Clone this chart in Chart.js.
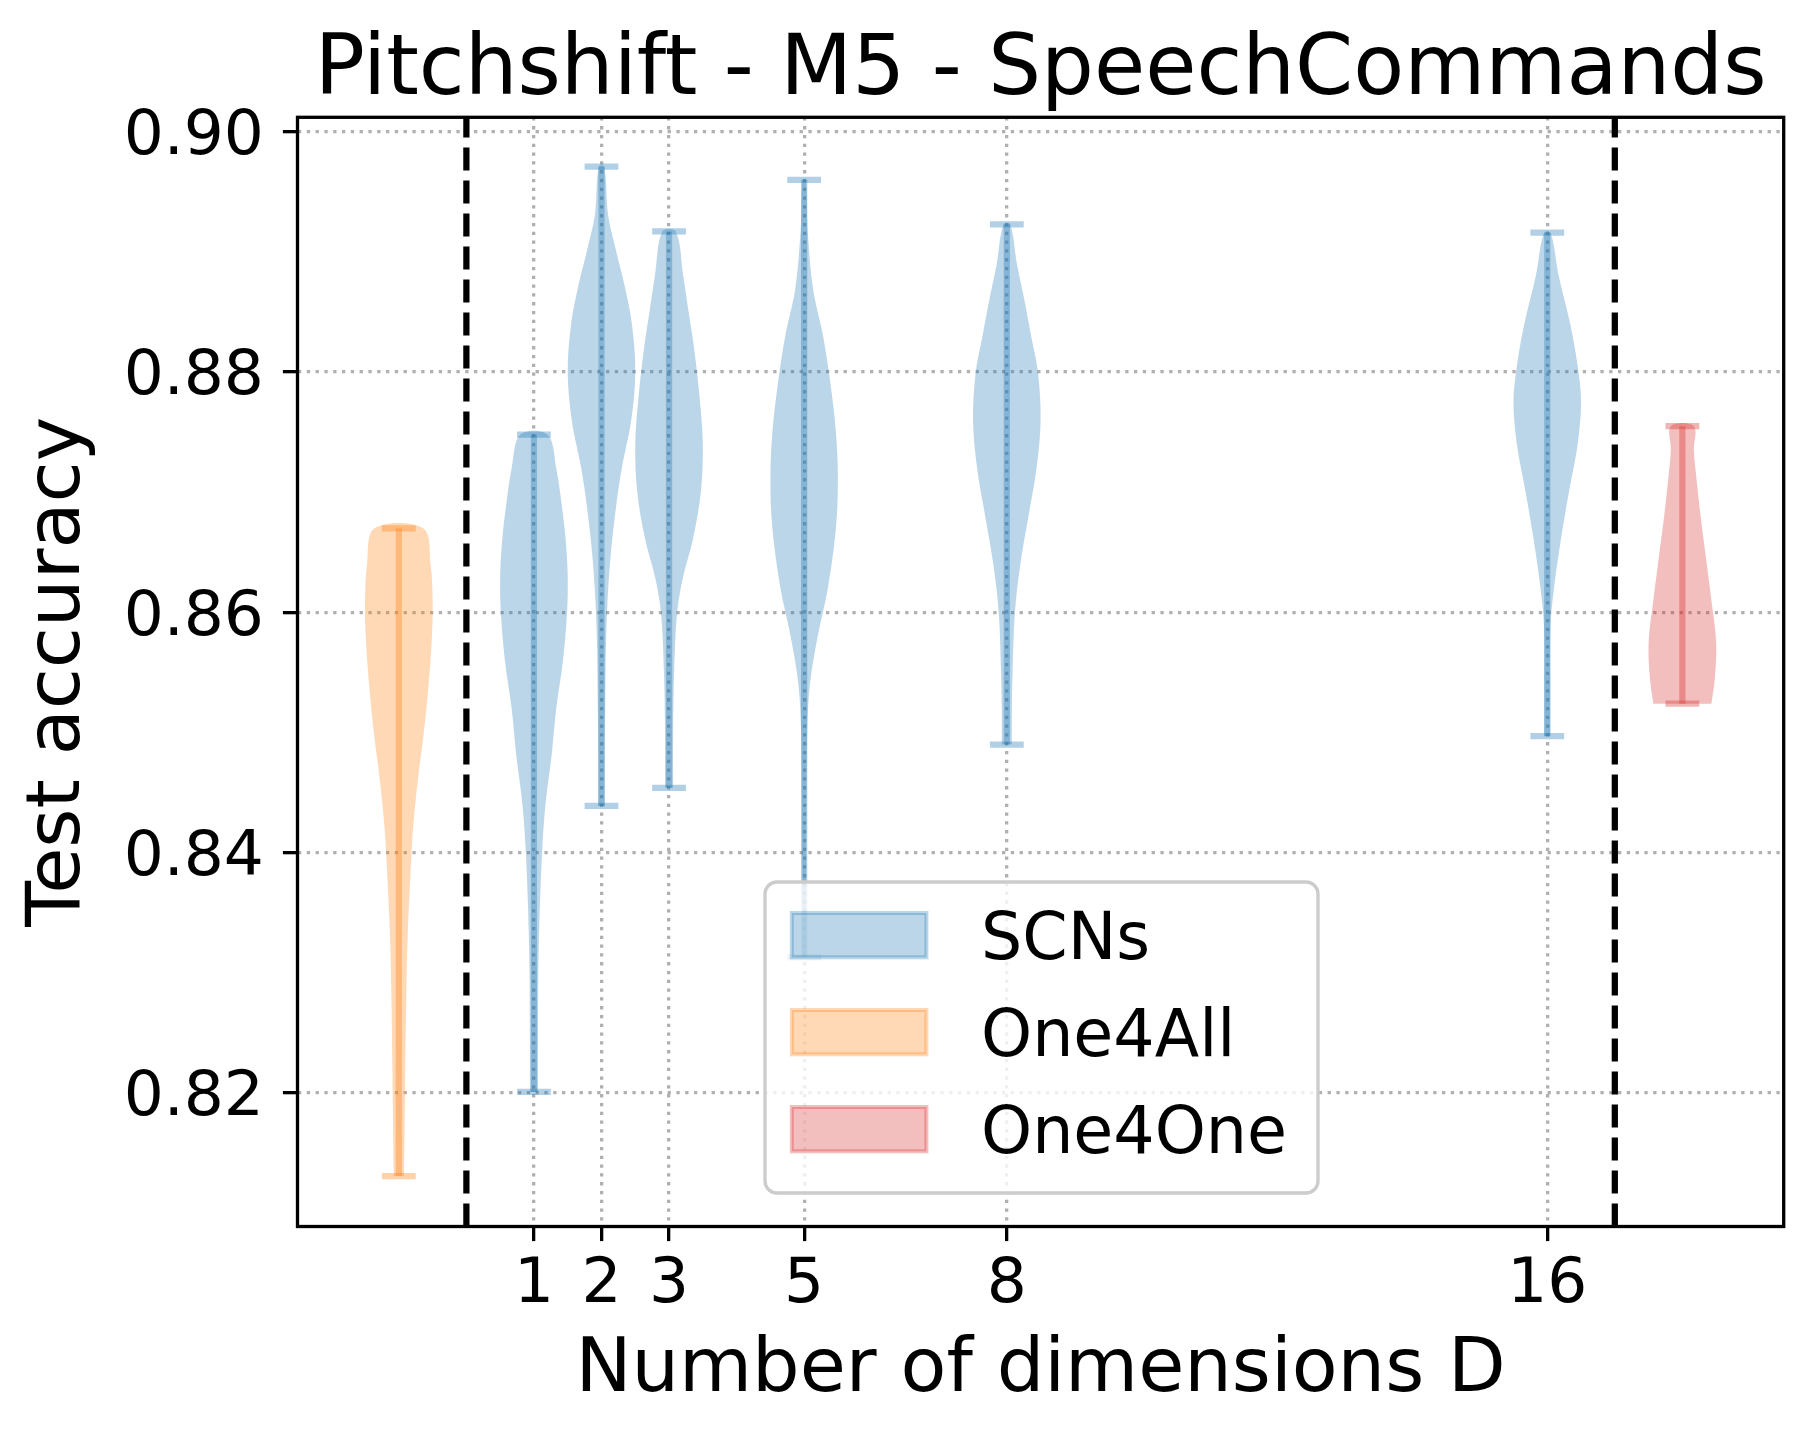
<!DOCTYPE html>
<html>
<head>
<meta charset="utf-8">
<script src="https://cdn.jsdelivr.net/npm/chart.js@4.4.1/dist/chart.umd.min.js"></script>
<style>
  body { margin: 0; background: #fff; }
  canvas { display: block; }
</style>
</head>
<body>
<canvas id="violins" width="1815" height="1440" style="width:1815px;height:1440px"></canvas>
<script>
// x positions / tick labels (number of dimensions D)
const dims = [1, 2, 3, 5, 8, 16];
const yTicks = [0.82, 0.84, 0.86, 0.88, 0.90];

// SCN violins, one row per D: accuracy levels (bottom -> top) and half width at each level
const scnLevels = [
  [0.8201, 0.8250, 0.8300, 0.8350, 0.8400, 0.8440, 0.8480, 0.8520, 0.8560, 0.8600, 0.8630, 0.8660, 0.8690, 0.8720, 0.8748],
  [0.8439, 0.8480, 0.8520, 0.8570, 0.8610, 0.8650, 0.8690, 0.8720, 0.8760, 0.8800, 0.8840, 0.8870, 0.8900, 0.8930, 0.8971],
  [0.8454, 0.8500, 0.8550, 0.8600, 0.8630, 0.8660, 0.8700, 0.8740, 0.8780, 0.8820, 0.8850, 0.8880, 0.8917],
  [0.8313, 0.8360, 0.8400, 0.8450, 0.8500, 0.8540, 0.8580, 0.8620, 0.8670, 0.8710, 0.8750, 0.8790, 0.8830, 0.8870, 0.8920, 0.8960],
  [0.8490, 0.8520, 0.8550, 0.8600, 0.8640, 0.8680, 0.8720, 0.8760, 0.8800, 0.8830, 0.8860, 0.8890, 0.8923],
  [0.8497, 0.8540, 0.8590, 0.8620, 0.8660, 0.8700, 0.8740, 0.8775, 0.8805, 0.8840, 0.8880, 0.8916]
];
const scnHalfWidths = [
  [0.06, 0.06, 0.065, 0.085, 0.12, 0.17, 0.26, 0.33, 0.43, 0.49, 0.50, 0.47, 0.41, 0.33, 0.20],
  [0.05, 0.05, 0.055, 0.065, 0.09, 0.14, 0.22, 0.30, 0.44, 0.50, 0.45, 0.35, 0.22, 0.10, 0.04],
  [0.06, 0.06, 0.075, 0.12, 0.21, 0.35, 0.47, 0.50, 0.45, 0.37, 0.29, 0.21, 0.10],
  [0.025, 0.028, 0.03, 0.035, 0.045, 0.085, 0.20, 0.35, 0.47, 0.50, 0.47, 0.39, 0.28, 0.13, 0.05, 0.025],
  [0.075, 0.075, 0.085, 0.12, 0.20, 0.32, 0.44, 0.50, 0.46, 0.36, 0.26, 0.15, 0.05],
  [0.045, 0.045, 0.05, 0.10, 0.20, 0.32, 0.45, 0.50, 0.45, 0.34, 0.17, 0.05]
];

const one4allX = -1;
const one4allLevels = [0.8131, 0.8170, 0.8220, 0.8280, 0.8330, 0.8380, 0.8420, 0.8460, 0.8500, 0.8540, 0.8580, 0.8610, 0.8640, 0.8670];
const one4allHalfWidths = [0.075, 0.085, 0.095, 0.11, 0.13, 0.17, 0.21, 0.28, 0.37, 0.44, 0.49, 0.50, 0.47, 0.36];

const one4oneX = 18;
const one4oneLevels = [0.8524, 0.8545, 0.8575, 0.8610, 0.8645, 0.8680, 0.8716, 0.8735, 0.8755];
const one4oneHalfWidths = [0.43, 0.48, 0.50, 0.43, 0.35, 0.27, 0.20, 0.17, 0.17];

const separators = [0, 17];
const xRange = [-2.5, 19.5];
const yRange = [0.8089, 0.9012];

const legendLabels = ['SCNs', 'One4All', 'One4One'];
const BLUE = '31,119,180', ORANGE = '255,127,14', RED = '214,39,40';
const FONT = '"DejaVu Sans", sans-serif';

function outline(cx, ys, ws) {
  const left = ys.map((y, i) => ({x: cx - ws[i], y: y}));
  const right = ys.map((y, i) => ({x: cx + ws[i], y: y})).reverse();
  return left.concat(right);
}

function seg(points, rgb) {
  return {data: points, borderColor: 'rgba(' + rgb + ',0.35)', borderWidth: 6.25,
    borderCapStyle: 'butt', pointRadius: 0, fill: false, tension: 0};
}

function violin(cx, ys, ws, rgb) {
  const lo = ys[0], hi = ys[ys.length - 1];
  return [
    {data: outline(cx, ys, ws), fill: 'shape', backgroundColor: 'rgba(' + rgb + ',0.3)',
      borderColor: 'rgba(0,0,0,0)', borderWidth: 1, tension: 0.35, pointRadius: 0},
    seg([{x: cx, y: lo}, {x: cx, y: hi}], rgb),
    seg([{x: cx - 0.25, y: lo}, {x: cx + 0.25, y: lo}], rgb),
    seg([{x: cx - 0.25, y: hi}, {x: cx + 0.25, y: hi}], rgb)
  ];
}

let datasets = [];
dims.forEach((d, i) => { datasets = datasets.concat(violin(d, scnLevels[i], scnHalfWidths[i], BLUE)); });
datasets = datasets.concat(violin(one4allX, one4allLevels, one4allHalfWidths, ORANGE));
datasets = datasets.concat(violin(one4oneX, one4oneLevels, one4oneHalfWidths, RED));
separators.forEach(s => {
  datasets.push({data: [{x: s, y: yRange[0]}, {x: s, y: yRange[1]}], borderColor: '#000',
    borderWidth: 6.25, borderDash: [23, 10], borderCapStyle: 'butt', pointRadius: 0, fill: false});
});

// axes frame + legend box
const framePlugin = {
  id: 'frameAndLegend',
  afterDatasetsDraw(chart) {
    const ctx = chart.ctx;
    const a = chart.chartArea;
    ctx.save();
    ctx.strokeStyle = '#000';
    ctx.lineWidth = 3.3;
    ctx.strokeRect(a.left, a.top, a.right - a.left, a.bottom - a.top);

    const bx = a.left + 467.5, by = a.top + 764.7, bw = 553, bh = 311;
    ctx.beginPath();
    ctx.roundRect(bx, by, bw, bh, 12);
    ctx.fillStyle = 'rgba(255,255,255,0.8)';
    ctx.fill();
    ctx.strokeStyle = '#cccccc';
    ctx.lineWidth = 3.3;
    ctx.stroke();

    const colors = [BLUE, ORANGE, RED];
    ctx.font = '65px ' + FONT;
    ctx.textBaseline = 'alphabetic';
    ctx.textAlign = 'left';
    legendLabels.forEach((lab, i) => {
      const rowBottom = by + 77.3 + i * 97;
      ctx.fillStyle = 'rgba(' + colors[i] + ',0.3)';
      ctx.fillRect(bx + 26.8, rowBottom - 46.3, 134.6, 44.3);
      ctx.strokeStyle = 'rgba(' + colors[i] + ',0.3)';
      ctx.lineWidth = 4;
      ctx.strokeRect(bx + 26.8, rowBottom - 46.3, 134.6, 44.3);
      ctx.fillStyle = '#000';
      ctx.fillText(lab, bx + 216, rowBottom);
    });
    ctx.restore();
  }
};

const gridCommon = {
  color: '#b0b0b0', lineWidth: 3.3, tickColor: '#000', tickWidth: 3.3,
  tickLength: 14.6, tickBorderDash: [], drawTicks: true
};

new Chart(document.getElementById('violins'), {
  type: 'line',
  data: {datasets: datasets},
  options: {
    responsive: false,
    devicePixelRatio: 1,
    animation: false,
    layout: {padding: {left: 0, right: 31.3, top: 0, bottom: 0}},
    plugins: {
      legend: {display: false},
      tooltip: {enabled: false},
      title: {
        display: true, fullSize: false,
        text: 'Pitchshift - M5 - SpeechCommands',
        color: '#000',
        font: {family: FONT, size: 83.3, weight: 'normal', lineHeight: 1},
        padding: {top: 30.25, bottom: 3.75}
      }
    },
    scales: {
      x: {
        type: 'linear', min: xRange[0], max: xRange[1],
        afterBuildTicks: s => { s.ticks = dims.map(v => ({value: v})); },
        afterFit: s => { s.height = 213.5; },
        grid: gridCommon,
        border: {display: false, dash: [3.3, 5.5]},
        ticks: {color: '#000', font: {family: FONT, size: 63}, padding: 6.4, maxRotation: 0, autoSkip: false,
          callback: v => String(v)},
        title: {display: true, text: 'Number of dimensions D', color: '#000',
          font: {family: FONT, size: 75, lineHeight: 1}, padding: {top: 0, bottom: 30.8}}
      },
      y: {
        type: 'linear', min: yRange[0], max: yRange[1],
        afterBuildTicks: s => { s.ticks = yTicks.map(v => ({value: v})); },
        afterFit: s => { s.width = 297.5; },
        grid: gridCommon,
        border: {display: false, dash: [3.3, 5.5]},
        ticks: {color: '#000', font: {family: FONT, size: 63}, padding: 19, labelOffset: 6,
          callback: v => v.toFixed(2)},
        title: {display: true, text: 'Test accuracy', color: '#000',
          font: {family: FONT, size: 75, lineHeight: 1}, padding: {top: 22.5, bottom: 0}}
      }
    }
  },
  plugins: [framePlugin]
});
</script>
</body>
</html>
